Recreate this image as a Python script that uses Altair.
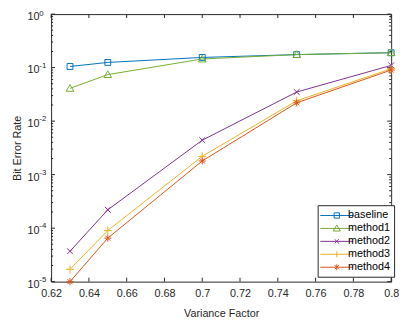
import altair as alt
import pandas as pd

x_vals = [0.63, 0.65, 0.70, 0.75, 0.80]
series_names = ["baseline", "method1", "method2", "method3", "method4"]
baseline = [0.105, 0.125, 0.155, 0.175, 0.19]
method1 = [0.041, 0.074, 0.145, 0.175, 0.19]
method2 = [3.7e-5, 2.2e-4, 4.4e-3, 0.035, 0.11]
method3 = [1.7e-5, 9.0e-5, 2.2e-3, 0.024, 0.095]
method4 = [1.0e-5, 6.5e-5, 1.8e-3, 0.022, 0.09]
colors = ["#0072BD", "#77AC30", "#7E2F8E", "#EDB120", "#D95319"]

x_ticks = [0.62, 0.64, 0.66, 0.68, 0.70, 0.72, 0.74, 0.76, 0.78, 0.80]
y_major = [1e-5, 1e-4, 1e-3, 1e-2, 1e-1, 1]
y_exponents = ["-5", "-4", "-3", "-2", "-1", "0"]
y_minor = [m * 10 ** e for e in range(-5, 0) for m in range(2, 10)]

rows = []
for name, vals in zip(series_names, [baseline, method1, method2, method3, method4]):
    for xv, yv in zip(x_vals, vals):
        rows.append({"x": xv, "y": yv, "series": name})
df = pd.DataFrame(rows)

W, H = 347, 273
FONT = "Liberation Sans"
TXT = "#262626"

xscale = alt.Scale(domain=[0.62, 0.8], nice=False, zero=False)
yscale = alt.Scale(type="log", domain=[1e-5, 1], nice=False)
cscale = alt.Scale(domain=series_names, range=colors)

x_axis = alt.Axis(values=x_ticks, format="~g", ticks=False, domain=False, grid=False,
                  labelOverlap=False, labelFlush=False,
                  labelPadding=6, title="Variance Factor", titlePadding=10)
y_axis = alt.Axis(values=y_major, labels=False, ticks=False, domain=False,
                  grid=False, title="Bit Error Rate", titlePadding=29)

marker_paths = [
    "M-1,-1H1V1H-1Z",
    "M0,-1.3L1.3,1H-1.3Z",
    "M-1,-1L1,1M-1,1L1,-1",
    "M-1.4,0H1.4M0,-1.4V1.4",
    "M-1.2,0H1.2M0,-1.2V1.2M-0.85,-0.85L0.85,0.85M-0.85,0.85L0.85,-0.85",
]
legend_paths = [
    "M-2.8,0H2.8M-0.45,-0.45H0.45V0.45H-0.45Z",
    "M-2.8,0H2.8M0,-0.6L0.6,0.45H-0.6Z",
    "M-2.8,0H2.8M-0.35,-0.35L0.35,0.35M-0.35,0.35L0.35,-0.35",
    "M-2.8,0H2.8M0,-0.5V0.5",
    "M-2.8,0H2.8M0,-0.5V0.5M-0.35,-0.35L0.35,0.35M-0.35,0.35L0.35,-0.35",
]

X = lambda f: alt.X(f, type="quantitative", scale=xscale, axis=x_axis)
Y = lambda f: alt.Y(f, type="quantitative", scale=yscale, axis=y_axis)

base = alt.Chart(df)

lines = base.mark_line(strokeWidth=1).encode(
    x=X("x"), y=Y("y"),
    color=alt.Color("series:N", scale=cscale, legend=None),
    detail="series:N",
)

points = base.mark_point(filled=False, strokeWidth=1, size=36, opacity=1).encode(
    x=X("x"), y=Y("y"),
    color=alt.Color("series:N", scale=cscale, legend=None),
    shape=alt.Shape("series:N", scale=alt.Scale(domain=series_names, range=marker_paths), legend=None),
)

leg = alt.Legend(title=None, orient="none", legendX=272, legendY=195)
legend_layer = base.transform_filter("false").mark_point(filled=False, strokeWidth=1, size=144, opacity=1).encode(
    x=X("x"), y=Y("y"),
    color=alt.Color("series:N", scale=cscale, legend=leg),
    shape=alt.Shape("series:N", scale=alt.Scale(domain=series_names, range=legend_paths), legend=leg),
)

tick_df = pd.DataFrame({"v": x_ticks})
xt_bottom = alt.Chart(tick_df).mark_rule(color=TXT, strokeWidth=1).encode(
    x=X("v"), y=alt.value(H), y2=alt.value(H - 4))
xt_top = alt.Chart(tick_df).mark_rule(color=TXT, strokeWidth=1).encode(
    x=X("v"), y=alt.value(0), y2=alt.value(4))

ymaj_df = pd.DataFrame({"v": y_major, "base": ["10"] * len(y_major), "exp": y_exponents})
ymin_df = pd.DataFrame({"v": y_minor})
yt_l = alt.Chart(ymaj_df).mark_rule(color=TXT, strokeWidth=1).encode(
    y=Y("v"), x=alt.value(0), x2=alt.value(4))
yt_r = alt.Chart(ymaj_df).mark_rule(color=TXT, strokeWidth=1).encode(
    y=Y("v"), x=alt.value(W), x2=alt.value(W - 4))
ymt_l = alt.Chart(ymin_df).mark_rule(color=TXT, strokeWidth=1).encode(
    y=Y("v"), x=alt.value(0), x2=alt.value(2))
ymt_r = alt.Chart(ymin_df).mark_rule(color=TXT, strokeWidth=1).encode(
    y=Y("v"), x=alt.value(W), x2=alt.value(W - 2))

lab = alt.Chart(ymaj_df)
ylab_base = lab.mark_text(
    font=FONT, fontSize=11, color=TXT, align="left", baseline="middle", dy=3
).encode(y=Y("v"), x=alt.value(-24), text="base:N")
ylab_exp = lab.transform_filter("datum.v < 0.5").mark_text(
    font=FONT, fontSize=8, color=TXT, align="left", baseline="middle", dy=-2
).encode(y=Y("v"), x=alt.value(-12), text="exp:N")
ylab_exp_top = lab.transform_filter("datum.v > 0.5").mark_text(
    font=FONT, fontSize=8, color=TXT, align="left", baseline="middle", dy=0
).encode(y=Y("v"), x=alt.value(-12), text="exp:N")

chart = alt.layer(
    xt_bottom, xt_top, yt_l, yt_r, ymt_l, ymt_r, ylab_base, ylab_exp, ylab_exp_top,
    lines, points, legend_layer
).resolve_scale(shape="independent", color="independent").properties(
    width=W, height=H,
    autosize=alt.AutoSizeParams(type="none"),
    padding={"left": 44, "top": 3, "right": 8, "bottom": 40},
).configure_view(
    stroke=TXT, strokeWidth=1
).configure_axis(
    labelFont=FONT, titleFont=FONT, labelFontSize=11, titleFontSize=11,
    labelColor=TXT, titleColor=TXT, titleFontWeight="normal",
).configure_legend(
    labelFont=FONT, labelFontSize=11, labelColor="#000000", labelFontWeight="normal",
    strokeColor="#262626", fillColor="white", padding=4,
    symbolStrokeWidth=1, symbolOffset=9, labelOffset=5, rowPadding=1.2,
    symbolSize=144,
)

chart.save("out.html", embed_options={"renderer": "svg", "actions": False})
